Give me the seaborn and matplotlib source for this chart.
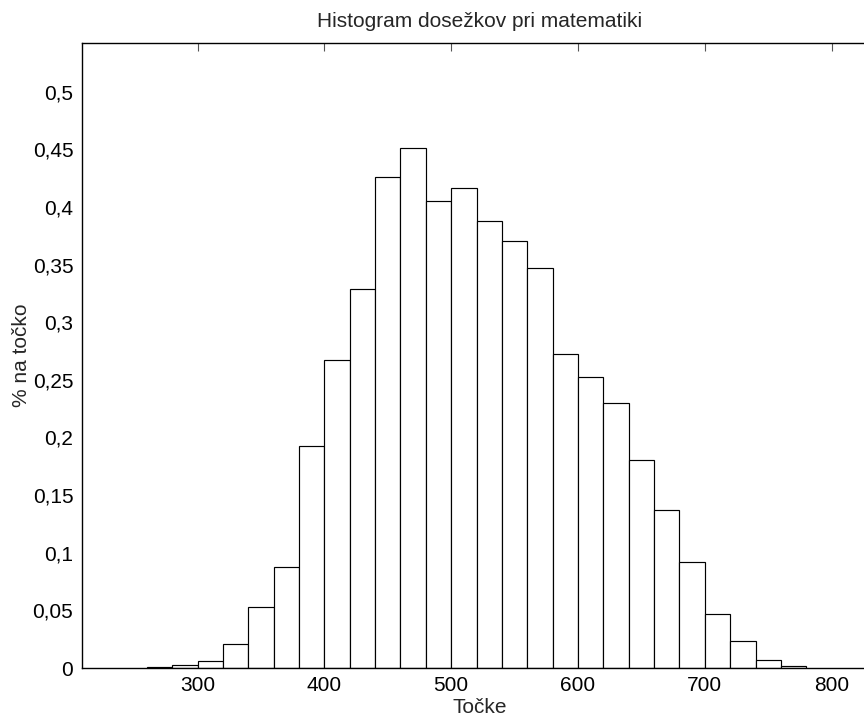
import matplotlib
matplotlib.use("Agg")
import matplotlib.pyplot as plt
import seaborn as sns
import numpy as np
from matplotlib.ticker import FuncFormatter, FixedLocator

# Data: bin left edges (points) and bar heights (% per point)
bin_lefts = [260, 280, 300, 320, 340, 360, 380, 400, 420, 440, 460, 480, 500,
             520, 540, 560, 580, 600, 620, 640, 660, 680, 700, 720, 740, 760]
heights = [0.0008, 0.0022, 0.0064, 0.0205, 0.053, 0.088, 0.193, 0.267, 0.3286,
           0.4257, 0.4514, 0.4052, 0.4167, 0.388, 0.3705, 0.347, 0.2724, 0.2527,
           0.2297, 0.1807, 0.1368, 0.0917, 0.0471, 0.0237, 0.0069, 0.0017]
bin_width = 20
x_ticks = [300, 400, 500, 600, 700, 800]
y_ticks = [0, 0.05, 0.1, 0.15, 0.2, 0.25, 0.3, 0.35, 0.4, 0.45, 0.5]
title = "Histogram dosežkov pri matematiki"
xlabel = "Točke"
ylabel = "% na točko"

sns.set_style("white")
plt.rcParams['font.family'] = ['Liberation Sans', 'DejaVu Sans']

W, H = 864, 717
fig = plt.figure(figsize=(W / 100, H / 100), dpi=100)
left, right, top, bottom = 81.7, 878, 43.3, 668
ax = fig.add_axes([left / W, 1 - bottom / H, (right - left) / W, (bottom - top) / H])

centers = [b + bin_width / 2 for b in bin_lefts]
edges = bin_lefts + [bin_lefts[-1] + bin_width]
sns.histplot(x=centers, weights=heights, bins=edges, stat="count",
             color="white", edgecolor="black", linewidth=0.85, alpha=1.0, ax=ax)

ax.set_xlim(208.7, 836.5)
ax.set_ylim(0, 0.542)
ax.xaxis.set_major_locator(FixedLocator(x_ticks))
ax.yaxis.set_major_locator(FixedLocator(y_ticks))

def fmt(v, pos):
    s = ("%g" % round(v, 4))
    return s.replace(".", ",")

ax.yaxis.set_major_formatter(FuncFormatter(fmt))
ax.xaxis.set_major_formatter(FuncFormatter(lambda v, p: "%d" % v))

ax.tick_params(direction="in", length=6, width=0.8, color="#555555",
               top=True, right=True, labelsize=15, pad=6, labelcolor="black")
for s in ax.spines.values():
    s.set_visible(True)
    s.set_color("black")
    s.set_linewidth(1.0)

ax.set_xlabel(xlabel, fontsize=15, labelpad=2)
ax.set_ylabel(ylabel, fontsize=15, labelpad=1)
ax.set_title(title, fontsize=15, pad=12)

fig.savefig("out.png", dpi=100, facecolor="white")
